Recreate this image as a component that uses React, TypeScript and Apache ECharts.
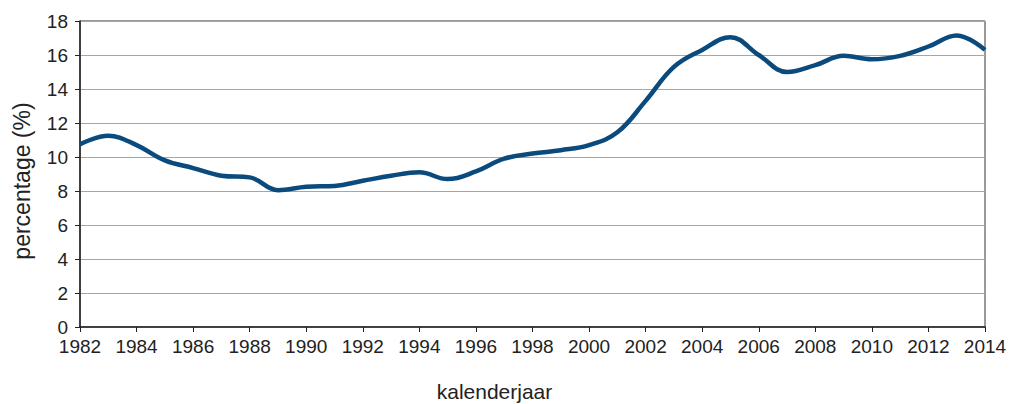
import React, { useEffect, useRef } from "react";
import * as echarts from "echarts";

const years: number[] = [
  1982, 1983, 1984, 1985, 1986, 1987, 1988, 1989, 1990, 1991, 1992, 1993, 1994, 1995, 1996, 1997,
  1998, 1999, 2000, 2001, 2002, 2003, 2004, 2005, 2006, 2007, 2008, 2009, 2010, 2011, 2012, 2013, 2014,
];
const percentages: number[] = [
  10.75, 11.25, 10.7, 9.8, 9.35, 8.9, 8.8, 8.05, 8.25, 8.3, 8.6, 8.9, 9.1, 8.7, 9.15, 9.9,
  10.2, 10.4, 10.7, 11.45, 13.3, 15.3, 16.3, 17.05, 16.0, 15.0, 15.4, 15.95, 15.75, 15.95, 16.5, 17.15, 16.3,
];
const yTicks = { min: 0, max: 18, interval: 2 };
const xTicks = { min: 1982, max: 2014, interval: 2 };

export default function App() {
  const ref = useRef<HTMLDivElement>(null);
  useEffect(() => {
    if (!ref.current) return;
    const chart = echarts.init(ref.current, undefined, { renderer: "svg" });
    const font = "'Liberation Sans', Arial, sans-serif";
    chart.setOption({
      animation: false,
      backgroundColor: "#ffffff",
      textStyle: { fontFamily: font },
      grid: {
        left: 80,
        right: 24,
        top: 21,
        bottom: 77,
        show: true,
        borderColor: "#333333",
        borderWidth: 1,
        containLabel: false,
        outerBoundsMode: "none",
      },
      xAxis: {
        type: "value",
        min: xTicks.min,
        max: xTicks.max,
        interval: xTicks.interval,
        name: "kalenderjaar",
        nameLocation: "middle",
        nameGap: 54,
        nameTextStyle: { fontSize: 21, color: "#222", fontFamily: font, padding: [0, 76, 0, 0] },
        axisLine: { show: true, lineStyle: { color: "#222", width: 1.5 } },
        axisTick: { show: true, inside: false, length: 5, lineStyle: { color: "#222" } },
        axisLabel: {
          fontSize: 19,
          color: "#222",
          margin: 10,
          fontFamily: font,
          formatter: (v: number) => String(v),
        },
        splitLine: { show: false },
      },
      yAxis: {
        type: "value",
        min: yTicks.min,
        max: yTicks.max,
        interval: yTicks.interval,
        name: "percentage (%)",
        nameLocation: "middle",
        nameGap: 47,
        nameRotate: 90,
        nameTextStyle: { fontSize: 23, color: "#222", fontFamily: font, padding: [0, 14, 0, 0] },
        axisLine: { show: true, lineStyle: { color: "#222", width: 1.5 } },
        axisTick: { show: true, inside: false, length: 5, lineStyle: { color: "#222" } },
        axisLabel: { fontSize: 19, color: "#222", margin: 12, fontFamily: font },
        splitLine: { show: true, lineStyle: { color: "#a6a6a6", width: 1 } },
      },
      series: [
        {
          type: "line",
          data: years.map((y, i) => [y, percentages[i]]),
          smooth: 0.4,
          showSymbol: false,
          lineStyle: { color: "#0b4a7c", width: 4.5 },
          itemStyle: { color: "#0b4a7c" },
        },
      ],
    });
    return () => chart.dispose();
  }, []);
  return (
    <div
      ref={ref}
      style={{ position: "fixed", left: 0, top: 0, width: 1009, height: 404, background: "#fff" }}
    />
  );
}
